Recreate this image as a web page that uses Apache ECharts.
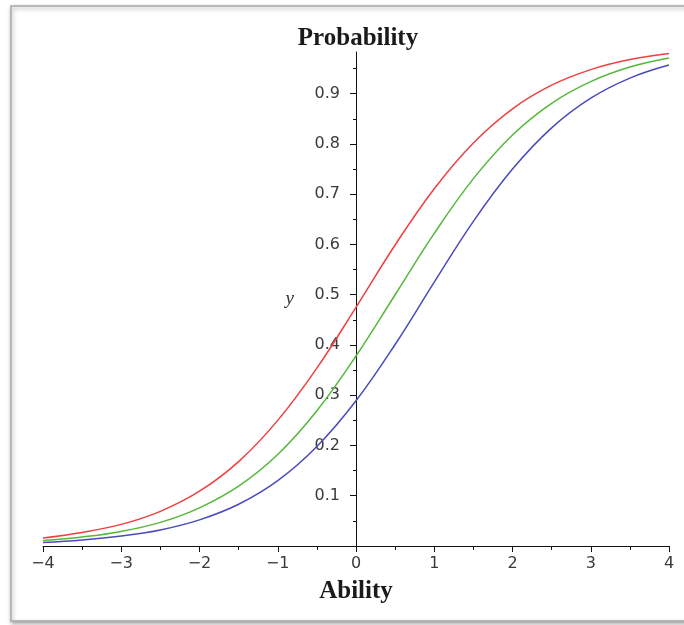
<!DOCTYPE html>
<html>
<head>
<meta charset="utf-8">
<title>Probability vs Ability</title>
<script src="https://cdn.jsdelivr.net/npm/echarts@6/dist/echarts.min.js"></script>
<style>
  html, body { margin: 0; padding: 0; background: #ffffff; }
  #main { width: 684px; height: 625px; }
</style>
</head>
<body>
<div id="main"></div>
<script>
// ability values (x)
var ability = [-4, -3.5, -3, -2.5, -2, -1.5, -1, -0.5, 0, 0.5, 1, 1.5, 2, 2.5, 3, 3.5, 4];

// probability
var redCurve = [0.016, 0.027, 0.043, 0.069, 0.109, 0.168, 0.250, 0.354, 0.475, 0.599, 0.711, 0.802, 0.870, 0.917, 0.948, 0.968, 0.980];
var greenCurve = [0.011, 0.018, 0.029, 0.047, 0.076, 0.119, 0.182, 0.269, 0.378, 0.500, 0.622, 0.731, 0.818, 0.881, 0.924, 0.953, 0.971];
var blueCurve = [0.007, 0.012, 0.020, 0.032, 0.052, 0.083, 0.130, 0.198, 0.289, 0.401, 0.525, 0.646, 0.750, 0.832, 0.891, 0.931, 0.957];

var yTicks = [0.1, 0.2, 0.3, 0.4, 0.5, 0.6, 0.7, 0.8, 0.9];

var gridLeft = 43, gridRight = 15;

function pairs(xs, ys) {
    var out = [];
    for (var i = 0; i < xs.length; i++) {
        out.push([xs[i], ys[i]]);
    }
    return out;
}

function curve(name, data, color) {
    return {
        name: name,
        type: 'line',
        data: pairs(ability, data),
        smooth: 0.4,
        showSymbol: false,
        lineStyle: { color: color, width: 1.5 },
        emphasis: { disabled: true }
    };
}

// y axis sits at ability = 0, i.e. the middle of the plot
var plotWidth = 684 - gridLeft - gridRight;
var yAxisShift = -plotWidth / 2;

var myChart = echarts.init(document.getElementById('main'));
var option = {
    backgroundColor: '#ffffff',
    animation: false,
    title: {
        text: 'Probability',
        left: 353,
        top: 21,
        textAlign: 'center',
        textStyle: {
            fontFamily: 'Liberation Serif',
            fontWeight: 'bold',
            fontSize: 25,
            color: '#1a1a1a'
        }
    },
    // frame around the plot, like the screenshot
    graphic: [{
        type: 'rect',
        z: -10,
        shape: { x: 11, y: 6, width: 700, height: 615 },
        style: {
            fill: '#ffffff',
            stroke: '#a8a8a8',
            lineWidth: 1.5,
            shadowBlur: 4,
            shadowOffsetX: 1,
            shadowOffsetY: 2,
            shadowColor: 'rgba(0,0,0,0.35)'
        }
    }],
    grid: {
        left: gridLeft, right: gridRight, top: 52, bottom: 79,
        containLabel: false,
        outerBoundsMode: 'none'
    },
    xAxis: {
        type: 'value',
        min: -4,
        max: 4,
        interval: 1,
        name: 'Ability',
        nameLocation: 'middle',
        nameGap: 33,
        nameTextStyle: {
            fontFamily: 'Liberation Serif',
            fontWeight: 'bold',
            fontSize: 25,
            color: '#1a1a1a'
        },
        splitLine: { show: false },
        axisLine: { onZero: false, lineStyle: { color: '#111', width: 1 } },
        axisTick: { length: 6, lineStyle: { color: '#111' } },
        minorTick: { show: true, splitNumber: 2, length: 4, lineStyle: { color: '#111' } },
        axisLabel: {
            margin: 10,
            fontFamily: 'DejaVu Sans',
            fontSize: 16,
            color: '#3a3a3a',
            formatter: function (v) {
                return String(v).replace('-', '\u2212');
            }
        }
    },
    yAxis: {
        type: 'value',
        min: 0,
        max: 0.983,
        interval: 0.1,
        offset: yAxisShift,
        name: 'y',
        nameLocation: 'middle',
        nameRotate: 0,
        nameGap: 62,
        nameTextStyle: {
            fontFamily: 'Liberation Serif',
            fontStyle: 'italic',
            fontSize: 19,
            color: '#333'
        },
        splitLine: { show: false },
        axisLine: { onZero: false, lineStyle: { color: '#111', width: 1 } },
        axisTick: { length: 6, customValues: yTicks, lineStyle: { color: '#111' } },
        minorTick: { show: true, splitNumber: 2, length: 3, lineStyle: { color: '#111' } },
        axisLabel: {
            margin: 16,
            customValues: yTicks,
            fontFamily: 'DejaVu Sans',
            fontSize: 16,
            color: '#3a3a3a',
            formatter: function (v) {
                return v.toFixed(1);
            }
        }
    },
    series: [
        curve('red', redCurve, '#ee4040'),
        curve('green', greenCurve, '#55b83a'),
        curve('blue', blueCurve, '#4a4ac0')
    ]
};
myChart.setOption(option);
</script>
</body>
</html>
